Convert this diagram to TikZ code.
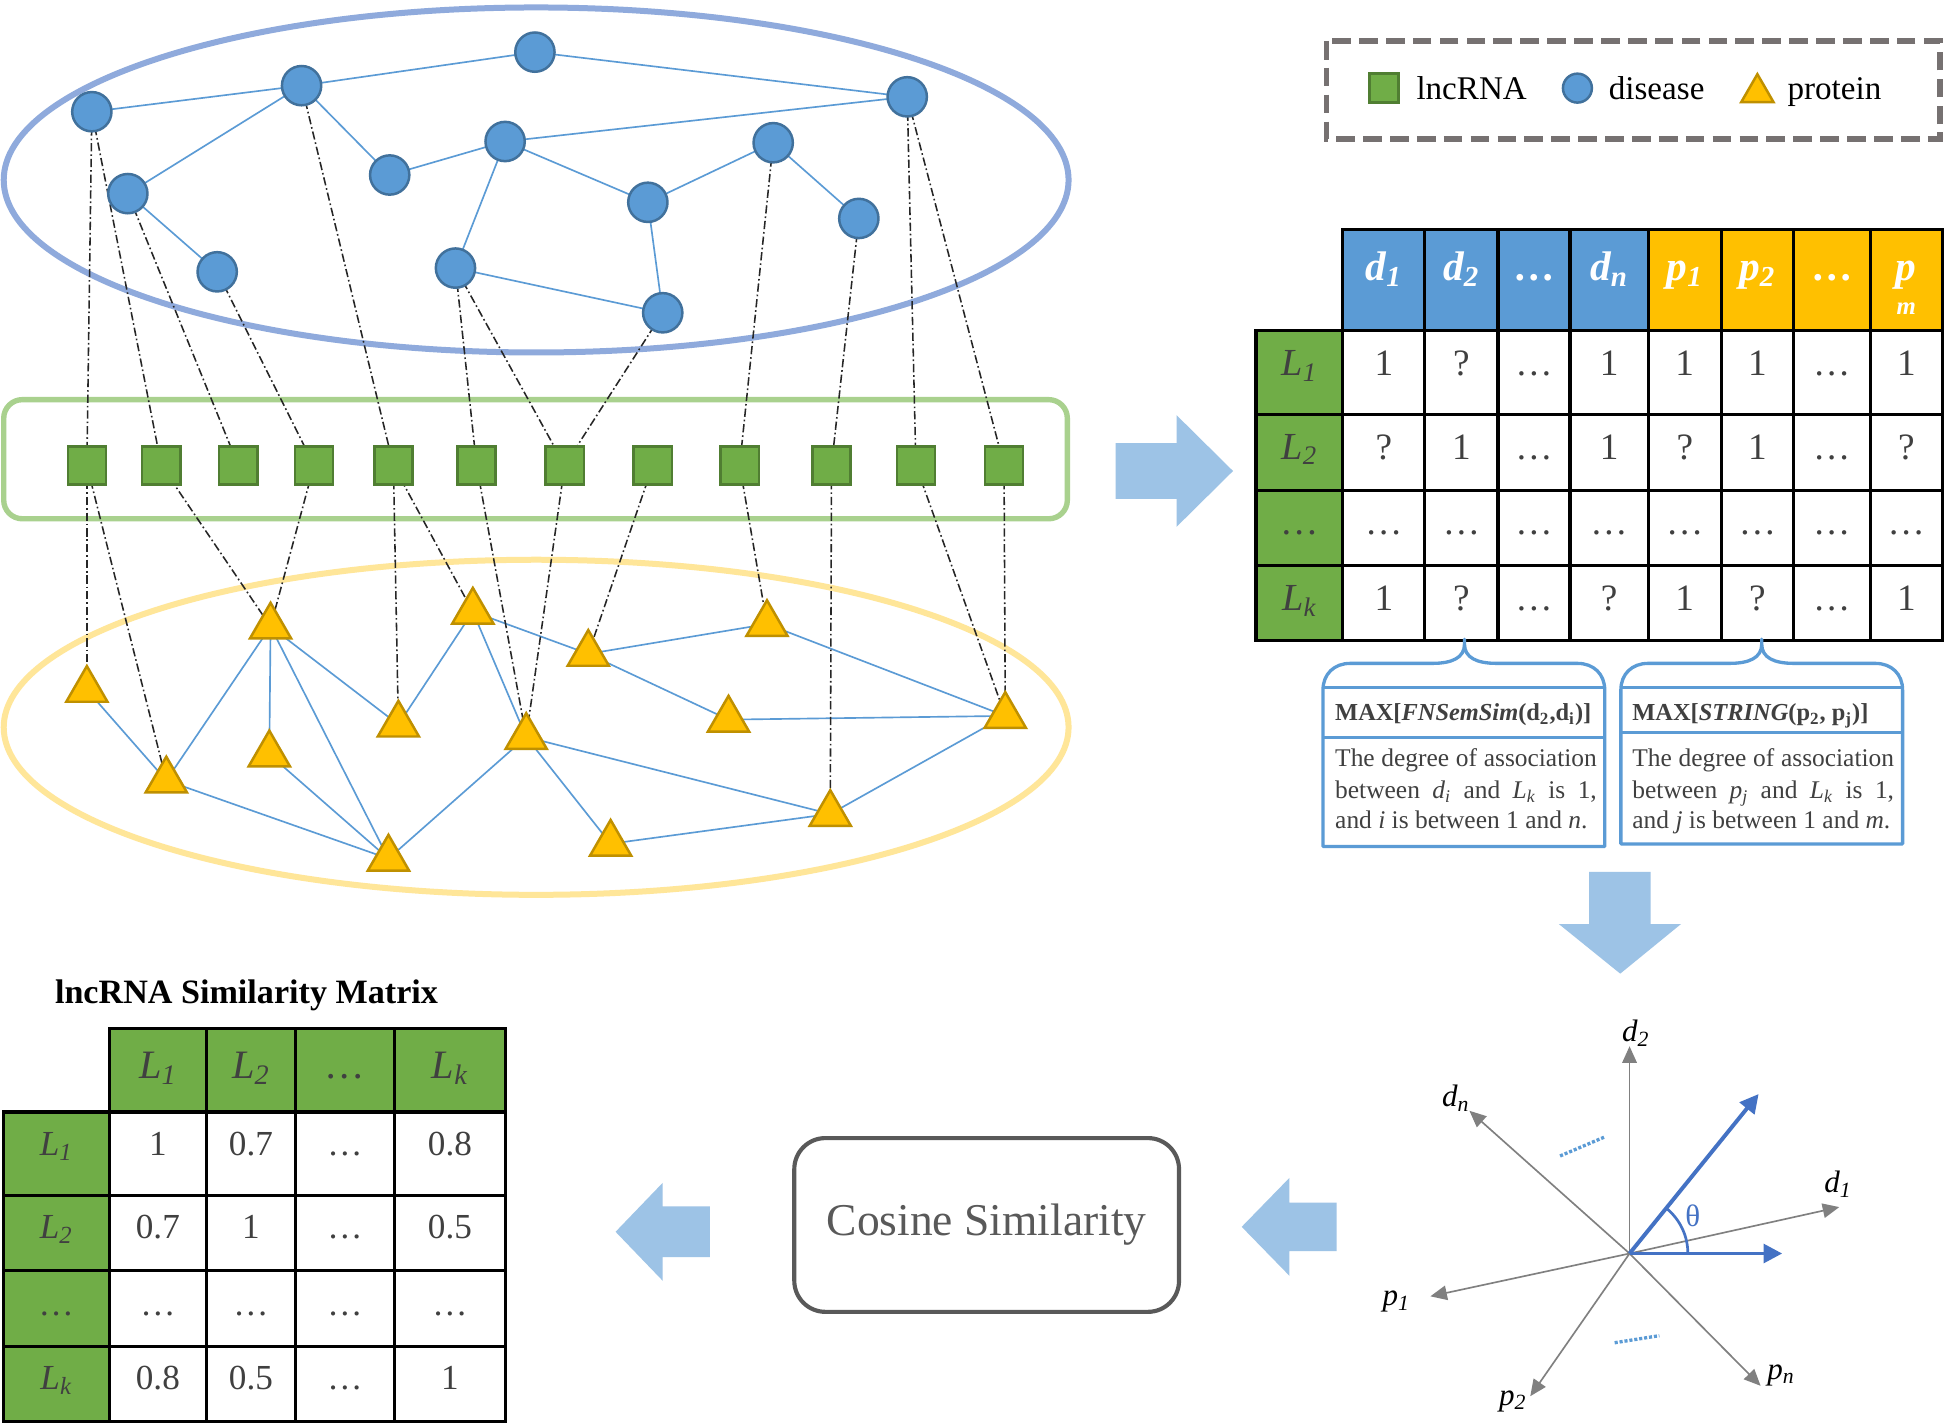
\documentclass[tikz,border=0pt]{standalone}
\usepackage{fontspec}
\setmainfont{Liberation Serif}
\usetikzlibrary{shapes.geometric,arrows.meta,calc}
\definecolor{disfill}{HTML}{5B9BD5}
\definecolor{disdraw}{HTML}{41719C}
\definecolor{lncfill}{HTML}{70AD47}
\definecolor{lncdraw}{HTML}{507E32}
\definecolor{profill}{HTML}{FFC000}
\definecolor{prodraw}{HTML}{BF9000}
\definecolor{ellblue}{HTML}{8FAADC}
\definecolor{ellyel}{HTML}{FFE699}
\definecolor{rectgreen}{HTML}{A9D18E}
\definecolor{arrowblue}{HTML}{9DC3E6}
\definecolor{txtgray}{HTML}{404040}
\definecolor{boxgray}{HTML}{595959}
\definecolor{legendgray}{HTML}{767171}
\definecolor{vecblue}{HTML}{4472C4}
\definecolor{axisgray}{HTML}{808080}
\newcommand{\setfs}[1]{\fontsize{#1}{#1}\selectfont}
\pgfdeclarelayer{back}
\pgfdeclarelayer{mid}
\pgfsetlayers{back,mid,main}
\begin{document}
\begin{tikzpicture}[x=0.6pt,y=-0.6pt,
  dis/.style={circle,fill=disfill,draw=disdraw,line width=1.2pt,minimum size=19pt,inner sep=0pt},
  lnc/.style={rectangle,fill=lncfill,draw=lncdraw,line width=1.2pt,minimum size=18.5pt,inner sep=0pt},
  pro/.style={regular polygon,regular polygon sides=3,fill=profill,draw=prodraw,line width=1.2pt,minimum size=23pt,inner sep=0pt,yshift=-2.9pt},
  net/.style={draw=disfill,line width=0.8pt},
  assoc/.style={draw=black!85,line width=0.75pt,dash pattern=on 4pt off 1.4pt on 0.8pt off 1.4pt},
  bigarrow/.style={fill=arrowblue,draw=none},
  tab/.style={draw=black,line width=1.5pt,line cap=rect},
  cell/.style={anchor=base,inner sep=0pt,text=txtgray,font=\setfs{18}},
  hdr/.style={anchor=base,inner sep=0pt,text=white,font=\setfs{20}\bfseries\itshape},
  rowhdr/.style={anchor=base,inner sep=0pt,text=txtgray,font=\setfs{18.5}\itshape},
  simcell/.style={anchor=base,inner sep=0pt,text=txtgray,font=\setfs{17}},
  simhdr/.style={anchor=base,inner sep=0pt,text=txtgray,font=\setfs{19.5}\itshape},
  simrow/.style={anchor=base,inner sep=0pt,text=txtgray,font=\setfs{17}\itshape},
  bracebox/.style={draw=disfill,line width=1.6pt,line join=round},
  btitle/.style={anchor=base west,inner sep=0pt,text=txtgray,font=\setfs{11.8}\bfseries},
  btext/.style={anchor=base west,inner sep=0pt,text=txtgray,font=\setfs{12.3}},
  axis/.style={draw=axisgray,line width=0.8pt,-{Triangle[length=8pt,width=7pt]}},
  vec/.style={draw=vecblue,line width=1.9pt,-{Triangle[length=9pt,width=9pt]}},
  vlab/.style={inner sep=0pt,font=\setfs{15}\itshape},
  legtxt/.style={anchor=base west,inner sep=0pt,font=\setfs{16}}
]
\useasboundingbox (0,0) rectangle (1568,1147);

% ---------- background containers ----------
\begin{pgfonlayer}{back}
\fill[white] (0,0) rectangle (1568,1147);
\draw[ellblue,line width=2.9pt] (432,145) ellipse [x radius=429, y radius=139];
\draw[rectgreen,line width=2.6pt,rounded corners=9pt] (3,322) rectangle (860,418);
\draw[ellyel,line width=2.9pt] (432,586) ellipse [x radius=429, y radius=135];
\end{pgfonlayer}

% ---------- disease nodes ----------
\node[dis] (d1) at (74,90) {};
\node[dis] (d2) at (243,69) {};
\node[dis] (d3) at (431,42) {};
\node[dis] (d4) at (731,78) {};
\node[dis] (d5) at (103,156) {};
\node[dis] (d6) at (314,141) {};
\node[dis] (d7) at (407,114) {};
\node[dis] (d8) at (623,115) {};
\node[dis] (d9) at (175,219) {};
\node[dis] (d10) at (522,163) {};
\node[dis] (d11) at (692,176) {};
\node[dis] (d12) at (367,216) {};
\node[dis] (d13) at (534,252) {};

% ---------- lncRNA nodes ----------
\foreach \x [count=\i] in {70,130,192,253,317,384,455,526,596,670,738,809}
  \node[lnc] (l\i) at (\x,375) {};

% ---------- protein nodes ----------
\node[pro] (p1) at (70,551) {};
\node[pro] (p2) at (134,624) {};
\node[pro] (p3) at (218,500) {};
\node[pro] (p4) at (217,603) {};
\node[pro] (p5) at (313,687) {};
\node[pro] (p6) at (321,579) {};
\node[pro] (p7) at (381,488) {};
\node[pro] (p8) at (424,589) {};
\node[pro] (p9) at (474,522) {};
\node[pro] (p10) at (492,675) {};
\node[pro] (p11) at (587,575) {};
\node[pro] (p12) at (618,498) {};
\node[pro] (p13) at (669,651) {};
\node[pro] (p14) at (810,572) {};

% ---------- edges ----------
\begin{pgfonlayer}{mid}
\foreach \a/\b in {d1/d2,d2/d3,d3/d4,d2/d5,d2/d6,d6/d7,d7/d4,d7/d10,d7/d12,d10/d8,d8/d11,d10/d13,d12/d13,d5/d9}
  \draw[net] (\a.center) -- (\b.center);
\foreach \a/\b in {p1/p2,p2/p3,p2/p5,p3/p4,p3/p5,p3/p6,p4/p5,p6/p7,p7/p8,p7/p9,p9/p12,p9/p11,p12/p14,p11/p14,p8/p5,p8/p10,p8/p13,p10/p13,p13/p14}
  \draw[net] (\a.center) -- (\b.center);
\foreach \a/\b in {d1/l1,d1/l2,d5/l3,d9/l4,d2/l5,d12/l6,d12/l7,d13/l7,d8/l9,d11/l10,d4/l11,d4/l12}
  \draw[assoc] (\a.center) -- (\b.center);
\foreach \a/\b in {l1/p1,l1/p2,l2/p3,l4/p3,l5/p6,l5/p7,l6/p8,l7/p8,l8/p9,l9/p12,l10/p13,l11/p14,l12/p14}
  \draw[assoc] (\a.center) -- (\b.center);
\end{pgfonlayer}

% ---------- legend ----------
\draw[legendgray,line width=2.6pt,dash pattern=on 9pt off 4pt] (1069,33) rectangle (1563,112);
\node[lnc,minimum size=14pt] (lgl) at (1115,71) {};
\node[legtxt] (lglt) at (1141,80) {lncRNA};
\node[dis,minimum size=14pt] (lgd) at (1271,71) {};
\node[legtxt] (lgdt) at (1296,80) {disease};
\node[pro,minimum size=18pt,yshift=0.65pt] (lgp) at (1416,71) {};
\node[legtxt] (lgpt) at (1440,80) {protein};

% ---------- big arrows ----------
\fill[bigarrow] (899,357) -- (948,357) -- (948,334.5) -- (993.5,379.5) -- (948,424.5) -- (948,402) -- (899,402) -- cycle;
\fill[bigarrow] (1280.5,702.5) -- (1330,702.5) -- (1330,744.5) -- (1354.5,744.5) -- (1305.5,784.5) -- (1256,744.5) -- (1280.5,744.5) -- cycle;
\fill[bigarrow] (1077,969) -- (1039,969) -- (1039,949) -- (1000.5,988.5) -- (1039,1028) -- (1039,1008) -- (1077,1008) -- cycle;
\fill[bigarrow] (572,972) -- (534,972) -- (534,953) -- (496,992.5) -- (534,1032) -- (534,1013) -- (572,1013) -- cycle;

% ---------- association matrix ----------
\fill[disfill] (1082,185) rectangle (1328,266);
\fill[profill] (1328,185) rectangle (1565,266);
\fill[lncfill] (1012,266) rectangle (1082,516);
\foreach \x in {1082,1148,1207,1265,1328,1387,1445,1507,1565}
  \draw[tab] (\x,185) -- (\x,516);
\draw[tab] (1012,266) -- (1012,516);
\draw[tab] (1082,185) -- (1565,185);
\foreach \y in {266,334,395,456,516}
  \draw[tab] (1012,\y) -- (1565,\y);

\node[hdr] (h1) at (1115,226) {d\textsubscript{1}};
\node[hdr] (h2) at (1177.5,226) {d\textsubscript{2}};
\node[hdr,font=\setfs{20}\bfseries] (h3) at (1236,226) {\ldots};
\node[hdr] (h4) at (1296.5,226) {d\textsubscript{n}};
\node[hdr] (h5) at (1357.5,226) {p\textsubscript{1}};
\node[hdr] (h6) at (1416,226) {p\textsubscript{2}};
\node[hdr,font=\setfs{20}\bfseries] (h7) at (1476,226) {\ldots};
\node[hdr] (h8) at (1536,226) {p};
\node[hdr,font=\setfs{12}\bfseries\itshape] (h8m) at (1536,253) {m};

\node[rowhdr] (r1) at (1047,302.7) {L\textsubscript{1}};
\node[rowhdr] (r2) at (1047,370) {L\textsubscript{2}};
\node[rowhdr,font=\setfs{18.5}] (r3) at (1047,431) {\ldots};
\node[rowhdr] (r4) at (1047,491.5) {L\textsubscript{k}};

\foreach \x/\v [count=\c] in {1115/1,1177.5/?,1236/\ldots,1296.5/1,1357.5/1,1416/1,1476/\ldots,1536/1}
  \node[cell] (aa\c) at (\x,302.7) {\v};
\foreach \x/\v [count=\c] in {1115/?,1177.5/1,1236/\ldots,1296.5/1,1357.5/?,1416/1,1476/\ldots,1536/?}
  \node[cell] (ab\c) at (\x,370) {\v};
\foreach \x [count=\c] in {1115,1177.5,1236,1296.5,1357.5,1416,1476,1536}
  \node[cell] (ac\c) at (\x,431) {\ldots};
\foreach \x/\v [count=\c] in {1115/1,1177.5/?,1236/\ldots,1296.5/?,1357.5/1,1416/?,1476/\ldots,1536/1}
  \node[cell] (ad\c) at (\x,491.5) {\v};

% ---------- brace boxes ----------
\draw[bracebox] (1066,682) -- (1066,556) .. controls (1066,543) and (1075,534.5) .. (1088,534.5) -- (1154,534.5) .. controls (1170,534.5) and (1180,530) .. (1180,519) -- (1180,515) -- (1180,519) .. controls (1180,530) and (1190,534.5) .. (1206,534.5) -- (1271,534.5) .. controls (1284,534.5) and (1293,543) .. (1293,556) -- (1293,682) -- cycle;
\draw[bracebox] (1066,554) -- (1293,554);
\draw[bracebox] (1066,594) -- (1293,594);
\draw[bracebox] (1306,680) -- (1306,556) .. controls (1306,543) and (1315,534.5) .. (1328,534.5) -- (1393.5,534.5) .. controls (1409.5,534.5) and (1419.5,530) .. (1419.5,519) -- (1419.5,515) -- (1419.5,519) .. controls (1419.5,530) and (1429.5,534.5) .. (1445.5,534.5) -- (1511,534.5) .. controls (1524,534.5) and (1533,543) .. (1533,556) -- (1533,680) -- cycle;
\draw[bracebox] (1306,554) -- (1533,554);
\draw[bracebox] (1306,590) -- (1533,590);

\node[btitle] (bt1) at (1075.5,580.7) {MAX[\textit{FNSemSim}(d\textsubscript{2},d\textsubscript{i})]};
\node[btext] (b1a) at (1075.5,617.8) {\makebox[126.5pt][s]{The degree of association}};
\node[btext] (b1b) at (1075.5,643.3) {\makebox[126.5pt][s]{between \textit{d}\textsubscript{\textit{i}} and \textit{L}\textsubscript{\textit{k}} is 1,}};
\node[btext] (b1c) at (1075.5,667.5) {and \textit{i} is between 1 and \textit{n}.};

\node[btitle] (bt2) at (1315,580.7) {MAX[\textit{STRING}(p\textsubscript{2}, p\textsubscript{j})]};
\node[btext] (b2a) at (1315,617.8) {\makebox[126.5pt][s]{The degree of association}};
\node[btext] (b2b) at (1315,643.3) {\makebox[126.5pt][s]{between \textit{p}\textsubscript{\textit{j}} and \textit{L}\textsubscript{\textit{k}} is 1,}};
\node[btext] (b2c) at (1315,667.5) {and \textit{j} is between 1 and \textit{m}.};

% ---------- vector space ----------
\coordinate (O) at (1313,1010);
\coordinate (tD2) at (1313,843);
\coordinate (tDn) at (1184,895);
\coordinate (tD1) at (1482,972.6);
\coordinate (tP1) at (1152.5,1044.5);
\coordinate (tP2) at (1233,1125);
\coordinate (tPn) at (1418.6,1116.6);
\coordinate (vA) at (1417,881.5);
\coordinate (vB) at (1436,1010);
\foreach \t in {tD2,tDn,tD1,tP1,tP2,tPn}
  \draw[axis] (O) -- (\t);
\draw[vec] (O) -- (vA);
\draw[vec] (O) -- (vB);
\draw[vecblue,line width=1.3pt] ($(O)+(47,0)$) arc[start angle=0,end angle=-51,radius=47];
\node[inner sep=0pt,text=vecblue,font=\setfs{15}] (theta) at (1364,979.5) {θ};
\draw[disfill,line width=1.6pt,dash pattern=on 1.5pt off 0.9pt] (1257,931.4) -- (1292.7,916.2);
\draw[disfill,line width=1.6pt,dash pattern=on 1.5pt off 0.9pt] (1301,1081.9) -- (1337,1076.2);
\node[vlab] (ld2) at (1318,832.5) {d\textsubscript{2}};
\node[vlab] (ldn) at (1173,885) {d\textsubscript{n}};
\node[vlab] (ld1) at (1481,954) {d\textsubscript{1}};
\node[vlab] (lp1) at (1125,1049) {p\textsubscript{1}};
\node[vlab] (lp2) at (1219,1129) {p\textsubscript{2}};
\node[vlab] (lpn) at (1435,1108) {p\textsubscript{n}};

% ---------- cosine similarity ----------
\node[draw=boxgray,line width=2pt,rounded corners=15pt,minimum width=186pt,minimum height=84pt,text=boxgray,font=\setfs{22}] (cos) at (795,987) {Cosine Similarity};

% ---------- similarity matrix ----------
\node[anchor=base west,inner sep=0pt,font=\setfs{16.5}\bfseries] (simtitle) at (44,808.5) {lncRNA Similarity Matrix};
\fill[lncfill] (88,829) rectangle (407,896);
\fill[lncfill] (3,896) rectangle (88,1145);
\foreach \x in {88,166.5,238,318,407}
  \draw[tab] (\x,829) -- (\x,1145);
\draw[tab] (3,896) -- (3,1145);
\draw[tab] (88,829) -- (407,829);
\foreach \y in {896,963,1024,1085,1145}
  \draw[tab] (3,\y) -- (407,\y);

\node[simhdr] (s1) at (127.2,869) {L\textsubscript{1}};
\node[simhdr] (s2) at (202.2,869) {L\textsubscript{2}};
\node[simhdr,font=\setfs{19.5}] (s3) at (278,869) {\ldots};
\node[simhdr] (s4) at (362.5,869) {L\textsubscript{k}};
\node[simrow] (sr1) at (45.3,930.7) {L\textsubscript{1}};
\node[simrow] (sr2) at (45.3,997.9) {L\textsubscript{2}};
\node[simrow,font=\setfs{17}] (sr3) at (45.3,1060) {\ldots};
\node[simrow] (sr4) at (45.3,1119.6) {L\textsubscript{k}};
\foreach \x/\v [count=\c] in {127.2/1,202.2/0.7,278/\ldots,362.5/0.8}
  \node[simcell] (sa\c) at (\x,930.7) {\v};
\foreach \x/\v [count=\c] in {127.2/0.7,202.2/1,278/\ldots,362.5/0.5}
  \node[simcell] (sb\c) at (\x,997.9) {\v};
\foreach \x [count=\c] in {127.2,202.2,278,362.5}
  \node[simcell] (sc\c) at (\x,1060) {\ldots};
\foreach \x/\v [count=\c] in {127.2/0.8,202.2/0.5,278/\ldots,362.5/1}
  \node[simcell] (sd\c) at (\x,1119.6) {\v};
\end{tikzpicture}
\end{document}
